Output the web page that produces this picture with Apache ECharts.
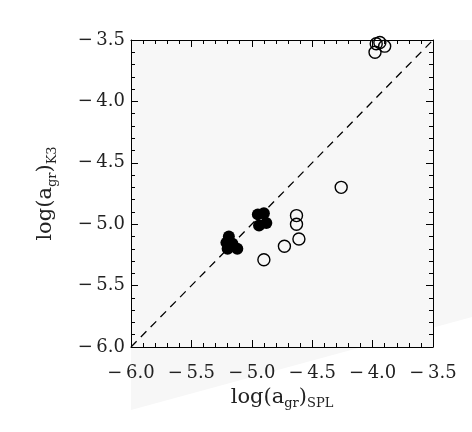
<!DOCTYPE html>
<html>
<head>
<meta charset="utf-8">
<script src="https://cdn.jsdelivr.net/npm/echarts@6/dist/echarts.min.js"></script>
<style>
  html, body { margin: 0; padding: 0; background: #ffffff; }
  #chart { width: 472px; height: 432px; }
</style>
</head>
<body>
<div id="chart"></div>
<script>
// axis range and ticks
var axisMin = -6.0;
var axisMax = -3.5;
var tickStep = 0.5;

// open circles: [log(a_gr)_SPL, log(a_gr)_K3]
var openPoints = [
  [-3.98, -3.60], [-3.97, -3.53], [-3.94, -3.52], [-3.90, -3.55],
  [-4.26, -4.70],
  [-4.63, -4.93], [-4.63, -5.00], [-4.61, -5.12],
  [-4.73, -5.18], [-4.90, -5.29]
];

// filled circles
var filledPoints = [
  [-4.95, -4.92], [-4.90, -4.91], [-4.94, -5.01], [-4.88, -4.99],
  [-5.19, -5.10], [-5.21, -5.15], [-5.20, -5.20], [-5.12, -5.20], [-5.16, -5.16]
];

// one-to-one line
var diagLine = [[-6.0, -6.0], [-3.5, -3.5]];

var font = 'DejaVu Serif';
var chart = echarts.init(document.getElementById('chart'));

var richName = {
  m: { fontFamily: font, fontSize: 21, color: '#222', lineHeight: 26 },
  s: { fontFamily: font, fontSize: 13, color: '#222', lineHeight: 15, verticalAlign: 'bottom' }
};

// bottom/left axes carry labels, top/right only carry inward ticks
function makeAxis(pos, withLabel, name, gap) {
  return {
    type: 'value',
    position: pos,
    min: axisMin,
    max: axisMax,
    interval: tickStep,
    name: withLabel ? name : '',
    nameLocation: 'middle',
    nameGap: gap,
    nameTextStyle: { rich: richName },
    axisLine: { show: true, onZero: false, lineStyle: { color: '#000', width: 1 } },
    axisTick: { show: true, inside: true, length: 7, lineStyle: { color: '#000', width: 1 } },
    minorTick: { show: true, splitNumber: 5, length: 4, lineStyle: { color: '#000', width: 1 } },
    splitLine: { show: false },
    axisLabel: {
      show: withLabel,
      fontFamily: font,
      fontSize: 18,
      color: '#222',
      margin: pos === 'bottom' ? 17 : 6,
      padding: pos === 'bottom' ? 0 : [6, 0, 0, 0],
      formatter: function (v) { return '\u2212\u2009' + Math.abs(v).toFixed(1); }
    }
  };
}

var option = {
  animation: false,
  backgroundColor: '#ffffff',
  graphic: [{
    type: 'polygon',
    z: -10,
    silent: true,
    shape: { points: [[131, 40], [472, 40], [472, 317], [131, 410]] },
    style: { fill: '#f7f7f7' }
  }],
  grid: {
    left: 131, top: 40, width: 302, height: 307,
    show: true, backgroundColor: '#f7f7f7', borderWidth: 0
  },
  xAxis: [
    makeAxis('bottom', true, '{m|log(a}{s|gr}{m|)}{s|SPL}', 36),
    makeAxis('top', false, '', 0)
  ],
  yAxis: [
    makeAxis('left', true, '{m|log(a}{s|gr}{m|)}{s|K3}', 72),
    makeAxis('right', false, '', 0)
  ],
  series: [
    {
      type: 'line',
      data: diagLine,
      symbol: 'none',
      lineStyle: { color: '#000', width: 1.3, type: [8, 6] },
      z: 1
    },
    {
      type: 'scatter',
      data: openPoints,
      symbol: 'circle',
      symbolSize: 12,
      itemStyle: { color: 'rgba(0,0,0,0)', borderColor: '#000', borderWidth: 1.4, opacity: 1 },
      clip: true,
      z: 2
    },
    {
      type: 'scatter',
      data: filledPoints,
      symbol: 'circle',
      symbolSize: 12,
      itemStyle: { color: '#000', opacity: 1 },
      clip: true,
      z: 3
    }
  ]
};

chart.setOption(option);
</script>
</body>
</html>
